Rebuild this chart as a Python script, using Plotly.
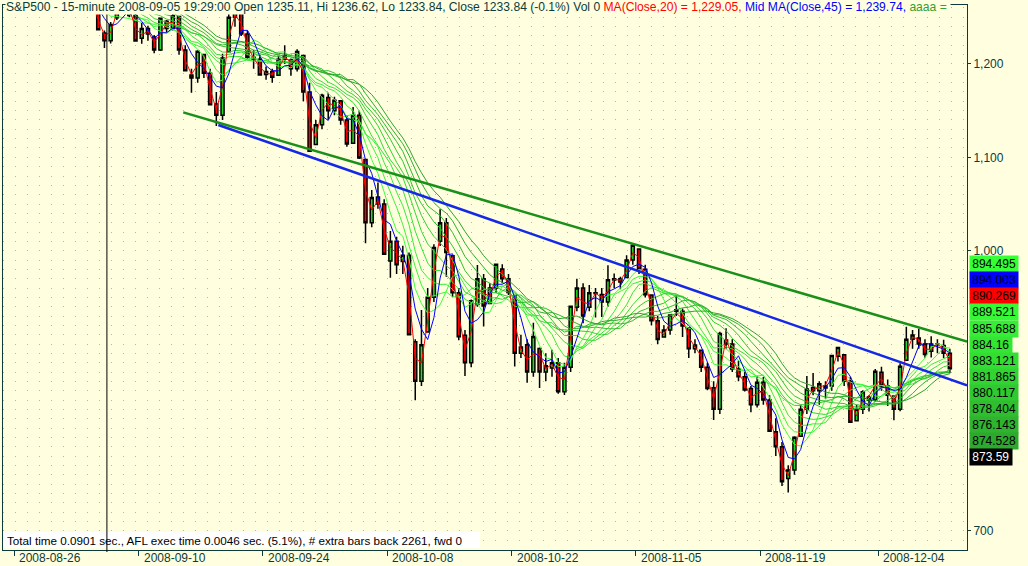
import plotly.graph_objects as go
import pandas as pd

# ---------------- data ----------------
TRADING_DAYS = [
    "2008-08-26", "2008-08-27", "2008-08-28", "2008-08-29",
    "2008-09-02", "2008-09-03", "2008-09-04", "2008-09-05", "2008-09-08", "2008-09-09",
    "2008-09-10", "2008-09-11", "2008-09-12", "2008-09-15", "2008-09-16", "2008-09-17",
    "2008-09-18", "2008-09-19", "2008-09-22", "2008-09-23", "2008-09-24", "2008-09-25",
    "2008-09-26", "2008-09-29", "2008-09-30",
    "2008-10-01", "2008-10-02", "2008-10-03", "2008-10-06", "2008-10-07", "2008-10-08",
    "2008-10-09", "2008-10-10", "2008-10-13", "2008-10-14", "2008-10-15", "2008-10-16",
    "2008-10-17", "2008-10-20", "2008-10-21", "2008-10-22", "2008-10-23", "2008-10-24",
    "2008-10-27", "2008-10-28", "2008-10-29", "2008-10-30", "2008-10-31",
    "2008-11-03", "2008-11-04", "2008-11-05", "2008-11-06", "2008-11-07", "2008-11-10",
    "2008-11-11", "2008-11-12", "2008-11-13", "2008-11-14", "2008-11-17", "2008-11-18",
    "2008-11-19", "2008-11-20", "2008-11-21", "2008-11-24", "2008-11-25", "2008-11-26",
    "2008-11-28",
    "2008-12-01", "2008-12-02", "2008-12-03", "2008-12-04", "2008-12-05", "2008-12-08",
    "2008-12-09", "2008-12-10", "2008-12-11",
]
HALF_DAYS = ["2008-11-28"]

# two candles per session (morning, afternoon); one on the half session
OPEN = [
    1267, 1270, 1271, 1278, 1283.8, 1291, 1296.5, 1289,
    1287.8, 1296, 1276.6, 1270, 1275, 1258, 1233.2, 1225, 1249.5, 1268, 1268, 1252,
    1227.5, 1238, 1229, 1215, 1245.9, 1238, 1250.9, 1215, 1188.3, 1185, 1210.3, 1190,
    1157.1, 1145, 1213.1, 1250, 1255.4, 1232, 1207.6, 1205, 1188.8, 1192, 1187.9, 1205,
    1204.5, 1195, 1209.1, 1170, 1113.8, 1135,
    1164.2, 1150, 1160.6, 1140, 1115.2, 1145, 1097.6, 1030, 1057.6, 1050, 988.9, 1010,
    988.4, 995, 902.3, 860, 912.8, 950, 1010, 1030, 994.6, 955, 909.5, 880,
    942.3, 970, 943.5, 960, 980.4, 970, 951.7, 890, 899.1, 870, 895.2, 870,
    874.3, 880, 848.9, 875, 939.5, 960, 939.4, 955, 953.1, 945,
    968.7, 970, 971.3, 990, 1001.8, 980, 952.4, 925, 907.4, 915, 936.8, 935,
    917.2, 895, 893.4, 875, 853.1, 830, 904.4, 900, 873.2, 865, 852.3, 835,
    859, 840, 805.9, 790, 755.8, 765, 801.2, 830, 853.4, 850, 852.9, 855,
    886.9,
    888.6, 860, 817.9, 830, 843.6, 840, 869.8, 855, 844.4, 830, 882.7, 905,
    906.5, 900, 892.2, 900, 898.4, 890,
]
HIGH = [
    1272, 1275.6, 1280, 1285, 1293, 1300.7, 1297.6, 1292,
    1303, 1298, 1280.6, 1279, 1275, 1262, 1236, 1244.9, 1274.4, 1273, 1268.7, 1255,
    1243.9, 1241, 1231, 1249, 1247, 1255.1, 1250.9, 1220, 1195, 1214.8, 1210.3, 1195,
    1170, 1211.1, 1265.1, 1262, 1255.4, 1236, 1214.8, 1210, 1197.4, 1195, 1210, 1220,
    1206, 1215.8, 1209.1, 1180, 1140, 1168,
    1169.3, 1165, 1160.6, 1145, 1153.8, 1150, 1097.6, 1065, 1072.9, 1055, 1021.1, 1015,
    1005.3, 998, 905, 936.4, 960, 1006.9, 1044.3, 1035, 994.6, 960, 915, 947.7,
    984.6, 975, 965, 985.4, 985.4, 975, 951.7, 910, 905, 922.8, 896.3, 890,
    893.8, 885, 880, 940.5, 970, 965, 963.2, 960, 960, 984.4,
    975.5, 972, 995, 1007.5, 1001.8, 985, 952.4, 930, 920, 931.5, 952, 938,
    917.2, 905, 893.4, 880, 860, 913, 916.9, 905, 882.3, 870, 855, 865.9,
    864.6, 845, 820.5, 795, 770, 801.2, 835, 865.6, 868.9, 860, 860, 887.7,
    896.3,
    888.6, 865, 835, 850.5, 845, 873.1, 875.6, 862, 845, 879.4, 918.6, 915,
    916.3, 905, 908.3, 905, 904.6, 895,
]
LOW = [
    1263.2, 1266, 1270, 1276, 1283.8, 1289, 1287, 1282.7,
    1285, 1272.2, 1265.6, 1268, 1255, 1235.9, 1217.2, 1222, 1247.1, 1262, 1250, 1224.5,
    1221.6, 1225, 1211.5, 1214, 1233.8, 1236, 1210, 1192.7, 1169.3, 1180, 1185, 1155.9,
    1133.5, 1140, 1213.1, 1240, 1230, 1205.6, 1195, 1187.9, 1183, 1179.8, 1187.9, 1200,
    1187.5, 1192, 1160, 1106.4, 1113.8, 1130,
    1140.3, 1145, 1135, 1111.4, 1115, 1098.1, 1008, 1025, 1045, 996.2, 971, 975,
    975, 909.2, 839.8, 855, 912.8, 945, 1005, 972.1, 950, 904, 865.8, 875,
    940, 918.7, 943.5, 955, 965, 952.5, 875.8, 885, 858.4, 865, 852.9, 860,
    865, 846.8, 845.3, 870, 935, 922.3, 935, 928.5, 928.9, 940,
    960, 958.6, 971.3, 985, 975, 949.9, 920, 899.7, 906.9, 910, 930, 907.5,
    884.9, 890, 870, 850.5, 818.7, 825, 895, 869.9, 860, 849, 826.8, 832,
    835, 806.2, 780, 747.8, 741, 760, 801.2, 825, 845, 835, 841.4, 850,
    881.2,
    855, 815.7, 817.9, 825, 827.6, 838, 850, 833.6, 818.4, 828, 882.7, 895,
    895, 885.4, 885.5, 890, 885, 868.7,
]
CLOSE = [
    1270, 1271.5, 1278, 1281.7, 1291, 1300.7, 1289, 1282.8,
    1296, 1277.6, 1270, 1275, 1258, 1236.8, 1225, 1242.3, 1268, 1267.8, 1252, 1224.5,
    1238, 1232, 1215, 1249, 1238, 1251.7, 1215, 1192.7, 1185, 1213.6, 1190, 1156.4,
    1145, 1206.5, 1250, 1255.1, 1232, 1207.1, 1205, 1188.2, 1192, 1185.9, 1205, 1209.2,
    1195, 1213.3, 1170, 1106.4, 1135, 1166.4,
    1150, 1161.1, 1140, 1114.3, 1145, 1099.2, 1030, 1056.9, 1050, 996.2, 1010, 984.9,
    995, 909.9, 860, 899.2, 950, 1003.4, 1030, 998, 955, 907.8, 880, 946.4,
    970, 940.6, 960, 985.4, 970, 955.1, 890, 896.8, 870, 908.1, 870, 876.8,
    880, 848.9, 875, 940.5, 960, 930.1, 955, 954.1, 945, 968.8,
    970, 966.3, 990, 1005.8, 980, 952.8, 925, 904.9, 915, 931, 935, 919.2,
    895, 899, 875, 852.3, 830, 911.3, 900, 873.3, 865, 850.8, 835, 859.1,
    840, 806.6, 790, 752.4, 765, 800, 830, 851.8, 850, 857.4, 855, 887.7,
    896.2,
    860, 816.2, 830, 848.8, 840, 870.7, 855, 845.2, 830, 876.1, 905, 909.7,
    900, 888.7, 900, 899.2, 890, 873.59,
]

MA_RED_WINDOW = 2      # MA(Close,20) on 15-minute bars ~ 2 half-session candles
MA_BLUE_WINDOW = 4     # MA(Close,45) ~ 4 half-session candles
RIBBON_WINDOWS = [6, 8, 10, 12, 14, 16, 18, 20, 22, 24]
RIBBON_COLORS = ["#3CFF3C", "#3AF53A", "#38EC38", "#36E236", "#34D834",
                 "#33CE33", "#31C331", "#30B930", "#2EAF2E", "#2CA52C"]

# trend lines: (session date, fraction of session, price)
TREND_GREEN = [("2008-09-15", 0.59, 1148.2), ("2008-12-11", 0.9, 907.4)]
TREND_BLUE = [("2008-09-18", 0.41, 1134.6), ("2008-12-11", 0.9, 861.5)]

SELECTED = ("2008-09-05", 0.45)

# 800 and 900 sit underneath the value labels in the reference, so only these show
Y_TICKS = [700, 1000, 1100, 1200]
TICK_DATES = ["2008-08-26", "2008-09-10", "2008-09-24", "2008-10-08",
              "2008-10-22", "2008-11-05", "2008-11-19", "2008-12-04"]

LABEL_TEXT = ["894.495", "894.003", "890.269", "889.521", "885.688", "884.16",
              "883.121", "881.865", "880.117", "878.404", "876.143", "874.528", "873.59"]
LABEL_BG = ["#36FF36", "#0000FF", "#FF0000", "#36F836", "#35EE35", "#34E634",
            "#33DE33", "#32D432", "#31C931", "#30BE30", "#2EB42E", "#2DAA2D", "#000000"]
LABEL_FG = ["#000000"] * 12 + ["#FFFFFF"]

TITLE_MAIN = "S&amp;P500 - 15-minute 2008-09-05 19:29:00 Open 1235.11, Hi 1236.62, Lo 1233.84, Close 1233.84 (-0.1%) Vol 0 "
TITLE_RED = "MA(Close,20) = 1,229.05, "
TITLE_BLUE = "Mid MA(Close,45) = 1,239.74, "
TITLE_GREEN = "aaaa = "
FOOTER = "Total time 0.0901 sec., AFL exec time 0.0046 sec. (5.1%), # extra bars back 2261, fwd 0"

# ---------------- build ----------------
BG = "#FFFFE0"
INK = "#0B3B3B"
FONT = "Liberation Sans, Arial, sans-serif"

day_start = {}
xs = []
pos = 0.0
for d in TRADING_DAYS:
    n = 1 if d in HALF_DAYS else 2
    day_start[d] = pos
    for k in range(n):
        xs.append(pos + 0.25 + 0.5 * k)
    pos += 0.5 * n
assert len(xs) == len(OPEN) == len(HIGH) == len(LOW) == len(CLOSE)


def day_x(date, frac):
    n = 0.5 if date in HALF_DAYS else 1.0
    return day_start[date] + frac * n


X_RANGE = [-0.909, 76.63]
Y_RANGE = [679.3, 1263.2]

close_s = pd.Series(CLOSE, dtype=float)
fig = go.Figure()

for w, c in zip(RIBBON_WINDOWS, RIBBON_COLORS):
    fig.add_trace(go.Scatter(x=xs, y=close_s.rolling(w, min_periods=1).mean(),
                             mode="lines", line=dict(color=c, width=1),
                             hoverinfo="skip"))

fig.add_trace(go.Candlestick(
    x=xs, open=OPEN, high=HIGH, low=LOW, close=CLOSE,
    increasing=dict(line=dict(color="black", width=1.5), fillcolor="#22DD22"),
    decreasing=dict(line=dict(color="black", width=1.5), fillcolor="#FF0000"),
    whiskerwidth=0, hoverinfo="skip"))

fig.add_trace(go.Scatter(x=xs, y=close_s.rolling(MA_RED_WINDOW, min_periods=1).mean(),
                         mode="lines", line=dict(color="#FF0000", width=1), hoverinfo="skip"))
fig.add_trace(go.Scatter(x=xs, y=close_s.rolling(MA_BLUE_WINDOW, min_periods=1).mean(),
                         mode="lines", line=dict(color="#0000FF", width=1), hoverinfo="skip"))

shapes = []


def trend_shape(anchors, color):
    (d0, f0, p0), (d1, f1, p1) = anchors
    x0, x1 = day_x(d0, f0), day_x(d1, f1)
    slope = (p1 - p0) / (x1 - x0)
    xe = X_RANGE[1]
    return dict(type="line", xref="x", yref="y", x0=x0, y0=p0, x1=xe,
                y1=p0 + slope * (xe - x0), line=dict(color=color, width=2.5),
                layer="above")


shapes.append(trend_shape(TREND_GREEN, "#1A8F1A"))
shapes.append(trend_shape(TREND_BLUE, "#1428E6"))

# footer box
PLOT_W, PLOT_H = 964, 545
shapes.append(dict(type="rect", xref="paper", yref="paper", x0=0, x1=477 / PLOT_W,
                   y0=2 / PLOT_H, y1=18 / PLOT_H, fillcolor="white",
                   line=dict(width=0), layer="above"))
# selected bar line
sx = day_x(*SELECTED)
shapes.append(dict(type="line", xref="x", yref="paper", x0=sx, x1=sx,
                   y0=-2 / PLOT_H, y1=1 + 3 / PLOT_H,
                   line=dict(color="black", width=1), layer="above"))

annotations = []
annotations.append(dict(
    xref="paper", yref="paper", x=2 / PLOT_W, y=1 - 2 / PLOT_H,
    xanchor="left", yanchor="middle", showarrow=False, bgcolor=BG, borderpad=0,
    text=(TITLE_MAIN + f"<span style='color:#FF0000'>{TITLE_RED}</span>"
          + f"<span style='color:#0000FF'>{TITLE_BLUE}</span>"
          + f"<span style='color:#33A033'>{TITLE_GREEN}</span>"),
    font=dict(family=FONT, size=12.1, color=INK)))
annotations.append(dict(
    xref="paper", yref="paper", x=2 / PLOT_W, y=10 / PLOT_H,
    xanchor="left", yanchor="middle", showarrow=False, text=FOOTER,
    font=dict(family=FONT, size=11.7, color="black")))

for d in TICK_DATES:
    annotations.append(dict(xref="x", yref="paper", x=day_start[d], y=-7.7 / PLOT_H,
                            xanchor="left", yanchor="middle", xshift=3,
                            showarrow=False, text=d,
                            font=dict(family=FONT, size=12, color=INK)))

LABEL_TOP = 259.3   # pixel centre of first label measured from plot top edge
LABEL_STEP = 16.05
for i, (t, bg, fg) in enumerate(zip(LABEL_TEXT, LABEL_BG, LABEL_FG)):
    yc = LABEL_TOP + i * LABEL_STEP
    annotations.append(dict(
        xref="paper", yref="paper", x=1 + 2 / PLOT_W, y=1 - yc / PLOT_H,
        xanchor="left", yanchor="middle", showarrow=False, text=t,
        bgcolor=bg, borderpad=1, width=6.6 * len(t), height=13.5,
        font=dict(family=FONT, size=12, color=fg)))

fig.update_layout(
    width=1028, height=566,
    margin=dict(l=3, r=61, t=5, b=16),
    paper_bgcolor=BG, plot_bgcolor=BG,
    showlegend=False, hovermode=False,
    shapes=shapes, annotations=annotations,
    xaxis=dict(range=X_RANGE, showgrid=False, zeroline=False,
               showline=True, mirror=True, linecolor=INK, linewidth=1,
               tickvals=[day_start[d] for d in TICK_DATES], showticklabels=False,
               ticks="outside", ticklen=5, tickcolor=INK,
               rangeslider=dict(visible=False)),
    yaxis=dict(range=Y_RANGE, side="right", zeroline=False,
               showline=True, mirror=True, linecolor=INK, linewidth=1,
               tickvals=Y_TICKS, tickformat=",", ticks="outside", ticklen=3,
               tickcolor=INK, tickfont=dict(family=FONT, size=12, color=INK),
               showgrid=True, gridcolor="#B4B4AA", griddash="1px,11px", gridwidth=1,
               minor=dict(dtick=10, tick0=0, showgrid=True, gridcolor="#B4B4AA",
                          griddash="1px,11px", gridwidth=1, ticks="")),
)

fig.write_html("out.html", config={"displayModeBar": False},
               post_script="document.body.style.margin='0';document.body.style.padding='0';"
                           "document.body.style.background='" + BG + "';")
